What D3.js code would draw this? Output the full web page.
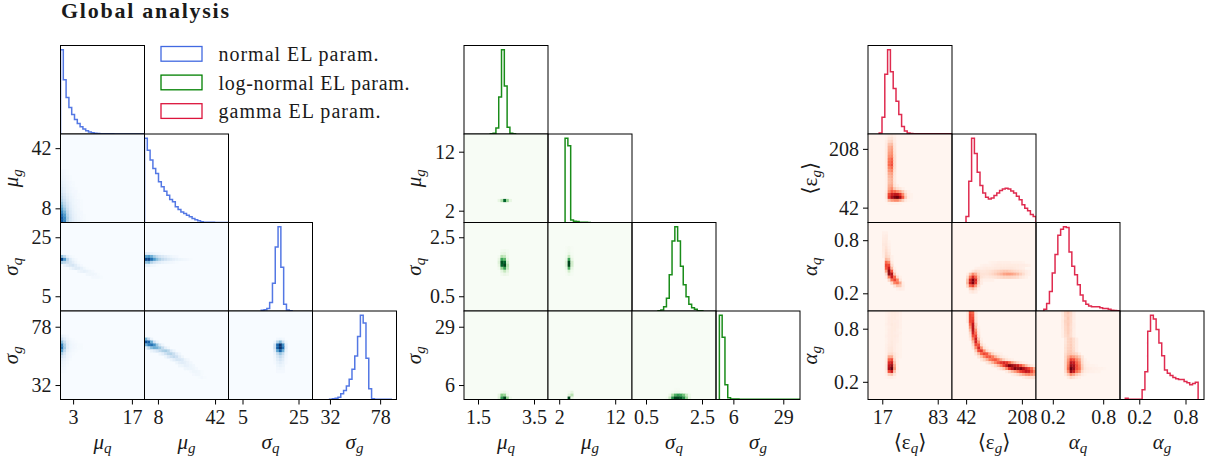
<!DOCTYPE html>
<html>
<head>
<meta charset="utf-8">
<script src="https://cdn.jsdelivr.net/npm/d3@7"></script>
<style>
  html, body { margin: 0; background: #fff; }
  svg text { font-family: "Liberation Serif", "DejaVu Serif", serif; fill: #1a1a1a; }
</style>
</head>
<body>
<svg id="svg1"></svg>
<script>
// legend + labels
var legendLabels = ["normal EL param.", "log-normal EL param.", "gamma EL param."];
var legendLengths = [160, 191, 162];
var labelsA = [["μ", "q"], ["μ", "g"], ["σ", "q"], ["σ", "g"]];
var labelsB = [["⟨ε", "q", "⟩"], ["⟨ε", "g", "⟩"], ["α", "q"], ["α", "g"]];

// axis ticks for each corner plot
var ticksBlue = [[3, 17], [8, 42], [5, 25], [32, 78]];
var ticksGreen = [[1.5, 3.5], [2, 12], [0.5, 2.5], [6, 29]];
var ticksRed = [[17, 83], [42, 208], [0.2, 0.8], [0.2, 0.8]];

// histograms, 30 bins, height relative to peak
var histBlueMuq = [1,.645,.433,.315,.232,.173,.126,.087,.059,.04,.024,.016,.008,.005,.004,.003,.002,.002,.002,.001,.001,.001,.001,.001,.001,.001,.001,.001,.001,.001];
var histBlueMug = [1,.858,.743,.64,.58,.482,.423,.372,.324,.273,.245,.186,.154,.126,.107,.087,.067,.047,.032,.02,.008,.004,.002,.002,.002,.001,.001,.001,.001,.001];
var histBlueSigq = [0,0,0,0,0,0,0,0,0,0,0,.008,.016,.03,.1,.33,.76,1,.52,.08,.012,.004,0,0,0,0,0,0,0,0];
var histBlueSigg = [0,0,0,0,0,0,.004,.008,.016,.028,.068,.108,.16,.24,.36,.516,.748,1,.908,.488,.128,.008,.002,.002,.002,.002,.002,.002,0,0];

var histGreenMuq = [0,0,0,0,0,0,0,0,0,.002,.01,.07,.44,1,.57,.08,.01,.002,0,0,0,0,0,0,0,0,0,0,0,0];
var histGreenMug = [0,0,0,0,0,0,1,.91,.03,.015,.012,.004,.003,.002,.001,0,0,0,0,0,0,0,0,0,0,0,0,0,0,0];
var histGreenSigq = [0,0,0,0,0,0,0,0,0,.004,.012,.05,.15,.43,.83,1,.83,.53,.31,.17,.08,.04,.02,.004,.004,0,0,0,0,0];
var histGreenSigg = [0,1,.74,.175,.02,.006,.005,.005,.004,.004,.004,.004,.004,.004,.004,.004,.004,.003,.003,.003,.003,.003,.003,.003,.003,.003,.003,.003,.003,.003];

var histRedEq = [0,0,0,0,.012,.2,.71,1,.74,.54,.39,.23,.09,.035,.012,.006,.004,.003,.003,.002,.002,.002,.002,.002,.002,.002,.002,.002,.002,.002];
var histRedEg = [0,0,0,0,0,.07,.49,1,.82,.595,.44,.35,.3,.28,.29,.32,.35,.38,.397,.405,.397,.373,.35,.31,.27,.21,.17,.14,.095,.07];
var histRedAq = [0,0,0,.02,.09,.23,.45,.67,.9,.97,1,.99,.7,.53,.43,.31,.19,.12,.08,.06,.05,.05,.05,.04,.03,.03,.02,.01,.006,.004];
var histRedAg = [0,0,.016,.004,.004,.004,.004,.004,.115,.33,.81,1,.956,.83,.67,.52,.35,.31,.286,.26,.246,.238,.238,.214,.2,.175,.19,.206,0,0];

// 2D histograms, sparse rows: [row, first column, densities in percent]
var cellsBlue21 = [[12,0,[3,2,1]],[13,0,[4,2,1]],[14,0,[5,3,2,1]],[15,0,[6,4,2,1]],[16,0,[8,5,3,2,1]],[17,0,[10,6,4,2,1]],[18,0,[13,8,5,3,2,1]],[19,0,[16,10,6,4,2,2]],[20,0,[20,13,8,5,3,2,1]],[21,0,[25,16,10,6,4,2,1]],[22,0,[30,20,12,7,5,3,2,1]],[23,0,[38,25,15,9,5,3,2,1]],[24,0,[46,30,18,10,6,4,2,1]],[25,0,[55,38,22,12,7,4,3,1]],[26,0,[65,48,26,14,8,5,3,2]],[27,0,[75,58,30,16,9,6,3,2,1]],[28,0,[82,65,34,18,10,6,4,2,1]],[29,0,[85,68,32,18,11,7,5,3,2,1]]];
var cellsBlue31 = [[11,0,[40,25,8,3,1]],[12,0,[90,60,28,12,5,2]],[13,0,[32,28,22,15,9,4,1]],[14,1,[6,10,15,17,11,5,2]],[15,3,[4,8,12,12,8,4,1]],[16,6,[4,6,8,6,4,2]],[17,9,[3,4,4,3,1]],[18,11,[2,2,2,1]]];
var cellsBlue32 = [[10,0,[10,10,7,5,3,2,1]],[11,0,[55,60,50,35,25,18,14,10,7,5,3,2]],[12,0,[90,92,75,58,42,32,25,20,15,12,9,7,5,4,3,2,1]],[13,0,[40,45,30,20,14,10,7,5,4,3,2,1]],[14,0,[7,7,4,3,1]]];
var cellsBlue41 = [[8,0,[8,4,2]],[9,0,[20,10,5,2,1]],[10,0,[42,22,8,4,2,1]],[11,0,[65,32,10,5,3,2,1,1]],[12,0,[72,35,10,5,3,2,1,1]],[13,0,[55,25,8,4,2,1]],[14,0,[32,15,5,2,1]],[15,0,[18,10,4,2]],[16,0,[10,6,3,1]],[17,0,[7,4,2]],[18,0,[5,3,1]],[19,0,[3,2]],[20,0,[2,1]]];
var cellsBlue42 = [[9,0,[45,25,6]],[10,0,[88,80,50,20,5]],[11,0,[50,70,75,62,38,16,5]],[12,0,[10,25,42,50,48,38,25,10,4]],[13,2,[6,10,16,25,32,35,28,13,5]],[14,5,[5,10,20,28,30,22,10,4]],[15,7,[5,13,20,25,20,10,4]],[16,9,[5,10,16,16,13,6,3]],[17,11,[5,9,11,9,6,3]],[18,12,[4,5,8,7,5,3]],[19,14,[4,5,5,4,2]],[20,16,[2,4,4,3,1]],[21,17,[2,3,3,1]],[22,19,[1,2,1]]];
var cellsBlue43 = [[9,17,[3,5,3]],[10,16,[5,28,45,22,4]],[11,16,[20,78,99,65,10]],[12,16,[22,82,100,75,12]],[13,16,[13,55,80,50,8]],[14,16,[6,24,38,24,5]],[15,16,[4,15,24,15,3]],[16,16,[3,11,17,11,2]],[17,16,[2,7,11,7,2]],[18,17,[5,7,5]],[19,17,[3,4,3]],[20,17,[2,2,2]]];

var cellsGreen21 = [[22,12,[10,32,90,40,10]]];
var cellsGreen31 = [[9,13,[3,4,2]],[10,13,[8,10,3]],[11,12,[3,30,25,5]],[12,12,[10,65,55,10]],[13,12,[15,95,90,20]],[14,12,[10,90,100,30]],[15,12,[4,40,65,25]],[16,13,[12,25,12]],[17,13,[4,8,5]]];
var cellsGreen32 = [[8,6,[1,3,1]],[9,6,[1,4,1]],[10,6,[2,8,2]],[11,6,[4,25,4]],[12,6,[8,65,10]],[13,6,[15,100,20]],[14,6,[15,100,20]],[15,6,[8,60,10]],[16,6,[3,20,4]],[17,6,[1,6,2]]];
var cellsGreen41 = [[27,13,[5,8,3]],[28,12,[10,45,40,8]],[29,12,[15,70,100,40,6]]];
var cellsGreen42 = [[27,7,[3,12]],[28,6,[0,15,30]],[29,6,[0,100,10]]];
var cellsGreen43 = [[26,15,[1,1]],[27,14,[3,6,6,4]],[28,13,[8,35,60,70,65,50,25,6]],[29,12,[4,25,75,100,100,95,75,40,10]]];

var cellsRed21 = [[0,6,[1,4,6,3]],[1,6,[2,8,10,4]],[2,6,[4,14,16,5]],[3,6,[5,22,24,7]],[4,6,[5,28,32,8]],[5,6,[6,30,35,9]],[6,6,[6,34,38,10]],[7,6,[6,38,42,12]],[8,6,[6,45,52,12]],[9,6,[6,48,55,13]],[10,6,[5,50,58,13]],[11,6,[5,42,50,12]],[12,6,[4,36,42,10]],[13,6,[4,30,34,8]],[14,6,[3,26,30,7]],[15,6,[3,24,28,7]],[16,6,[3,24,28,8]],[17,6,[3,28,32,10,4]],[18,6,[3,32,40,20,12,8,3]],[19,6,[5,40,55,50,40,32,20,8,3]],[20,6,[8,60,75,80,78,65,40,15,4,2]],[21,6,[8,65,85,95,100,85,55,20,5,2]],[22,6,[3,25,35,40,40,30,18,6,2,1]],[23,7,[2,3,3,3,2]]];
var cellsRed31 = [[3,5,[3,3]],[4,5,[4,5]],[5,5,[5,6]],[6,5,[6,7,2]],[7,5,[7,8,3]],[8,5,[6,10,4]],[9,5,[6,12,6]],[10,5,[5,14,8]],[11,5,[4,16,12,3]],[12,6,[25,20,3]],[13,6,[50,40,6]],[14,6,[60,60,12]],[15,6,[55,75,25,3]],[16,6,[35,92,55,8]],[17,6,[15,90,82,20,3]],[18,6,[5,45,75,50,14,3]],[19,7,[15,48,60,42,8]],[20,8,[15,42,48,30,4]],[21,9,[10,22,20,6]],[22,10,[3,5,4]]];
var cellsRed32 = [[13,13,[2,3,3,4,4,4,4,4,3,3,3,3,2]],[14,10,[2,3,3,3,4,5,6,6,6,6,6,6,6,6,5,5,4,3]],[15,8,[3,4,4,5,6,6,6,7,7,8,8,8,8,8,7,6,5,4]],[16,6,[2,8,12,10,8,8,9,10,12,14,16,18,20,20,18,16,14,12,10,8,5,3]],[17,5,[4,22,40,30,16,10,10,10,12,15,18,22,26,32,34,34,32,28,24,18,12,6,3]],[18,5,[12,45,70,50,22,10,8,7,8,9,10,12,14,16,16,16,15,14,12,8,6,3]],[19,5,[22,70,95,70,22,6,3,3,3,3]],[20,5,[25,75,95,65,18,5]],[21,5,[14,50,60,35,10]],[22,6,[15,22,12,3]],[23,6,[5,8,5]]];
var cellsRed41 = [[0,6,[2,4,6,6,5,3]],[1,6,[2,4,6,6,5,3]],[2,6,[2,5,6,6,4,3]],[3,6,[2,5,6,5,5,3]],[4,6,[3,5,7,6,5,3]],[5,6,[2,4,6,6,5,3]],[6,6,[2,5,6,6,4,2]],[7,6,[2,5,6,5,4,3]],[8,6,[3,5,6,6,5,2]],[9,6,[2,5,6,5,4,2]],[10,6,[2,5,7,5,4,2]],[11,6,[3,6,7,5,3,2]],[12,6,[3,7,8,5,3,2]],[13,6,[3,8,9,5,3,2]],[14,6,[3,12,14,8,4,2]],[15,6,[4,30,30,10,4,2]],[16,6,[5,52,58,15,3]],[17,6,[6,68,75,22,3]],[18,6,[8,78,90,30,3]],[19,6,[8,85,100,35,3]],[20,6,[6,58,75,22,2]],[21,6,[3,18,22,8]],[22,6,[1,3,4,2]]];
var cellsRed42 = [[0,5,[6,55,50,8]],[1,5,[6,60,55,8]],[2,5,[6,60,60,10]],[3,5,[6,60,65,12]],[4,6,[50,78,20]],[5,6,[38,80,25,3]],[6,6,[25,80,38,5]],[7,6,[15,72,48,8]],[8,6,[10,58,62,12]],[9,6,[5,42,75,22,3]],[10,7,[25,72,38,6]],[11,7,[15,58,58,14,4]],[12,7,[8,40,70,38,10,4]],[13,8,[20,58,65,38,14,6,3]],[14,8,[8,25,50,60,55,32,16,8,4,3]],[15,9,[10,22,40,55,55,45,28,16,8,4,2]],[16,10,[8,16,28,45,52,55,45,30,18,10,6,3]],[17,12,[8,16,28,42,55,65,70,65,52,35,24,14,8,4,2]],[18,14,[6,14,26,42,62,80,95,90,82,75,58,42,26,14,8,3]],[19,16,[5,12,22,42,65,80,95,90,95,85,72,62,50,30,15,6]],[20,19,[6,14,25,35,48,62,68,78,75,58,42]],[21,21,[4,8,14,22,30,38,42,38,32]],[22,25,[4,8,10,10,10]]];
var cellsRed43 = [[0,9,[6,16,20,14,5]],[1,9,[6,16,18,14,5]],[2,9,[5,14,20,13,5]],[3,9,[6,16,18,14,4]],[4,9,[5,15,19,13,5]],[5,9,[5,14,18,12,5]],[6,9,[4,14,18,13,4]],[7,9,[4,13,18,12,4]],[8,9,[4,12,16,12,4]],[9,10,[8,16,18,12,5]],[10,10,[8,16,18,12,5]],[11,10,[9,16,19,12,5]],[12,10,[10,17,19,13,5]],[13,10,[10,18,20,14,5]],[14,10,[12,20,22,18,14,6]],[15,10,[14,28,40,35,28,20,8]],[16,10,[14,35,62,58,42,32,12,3]],[17,10,[15,40,80,75,52,40,14,4,2]],[18,10,[15,45,90,85,58,45,18,6,3,2,2,1]],[19,10,[15,50,100,90,58,48,20,8,5,4,3,3,2,2,1]],[20,10,[12,40,90,75,48,38,14,6,4,3,3,2,2]],[21,10,[6,20,40,32,20,14,5,2]],[22,11,[6,14,10,6,3]]];

var width = 1210, height = 464;
var panelW = 84, panelH = 88.5, topY = 45.5, nBins = 30;
var tickFont = 20, labelFont = 21;

var corners = [
    {
        left: 60.5, labelGap: 43, color: "#4169e1", cmap: d3.interpolateBlues, labels: labelsA, ticks: ticksBlue,
        xDomains: [[0, 20], [0, 50], [0, 30], [16, 93]],
        yDomains: [null, [0, 50], [0, 30], [20.6, 90.4]],
        hists: [histBlueMuq, histBlueMug, histBlueSigq, histBlueSigg],
        shifts: [0, 0, 0.7, 0.1],
        cells: [[], [cellsBlue21], [cellsBlue31, cellsBlue32], [cellsBlue41, cellsBlue42, cellsBlue43]]
    },
    {
        left: 464, labelGap: 43, color: "#008000", cmap: d3.interpolateGreens, labels: labelsA, ticks: ticksGreen,
        xDomains: [[1, 4], [0, 15], [0, 3], [-2, 36.7]],
        yDomains: [null, [0, 15], [0, 3], [0.3, 35.2]],
        hists: [histGreenMuq, histGreenMug, histGreenSigq, histGreenSigg],
        shifts: [0.4, 0.1, 0.3, 0.2],
        cells: [[], [cellsGreen21], [cellsGreen31, cellsGreen32], [cellsGreen41, cellsGreen42, cellsGreen43]]
    },
    {
        left: 868, labelGap: 51, color: "#dc143c", cmap: d3.interpolateReds, labels: labelsB, ticks: ticksRed,
        xDomains: [[0, 100], [0, 250], [0, 1], [-0.05, 1.04]],
        yDomains: [null, [0, 250], [0, 1], [0, 1]],
        hists: [histRedEq, histRedEg, histRedAq, histRedAg],
        shifts: [0, 0, -0.2, -0.1],
        cells: [[], [cellsRed21], [cellsRed31, cellsRed32], [cellsRed41, cellsRed42, cellsRed43]]
    }
];

var svg = d3.select("#svg1").attr("width", width).attr("height", height).style("display", "block");

var defs = svg.append("defs");
defs.append("filter").attr("id", "soft")
    .attr("x", "-10%").attr("y", "-10%").attr("width", "120%").attr("height", "120%")
    .append("feGaussianBlur").attr("stdDeviation", 0.55);

function mathLabel(sel, parts) {
    sel.append("tspan").attr("font-style", parts[0].length > 1 ? "normal" : "italic").text(parts[0]);
    sel.append("tspan").attr("font-style", "italic").attr("font-size", 15).attr("dy", 4).text(parts[1]);
    if (parts[2]) {
        sel.append("tspan").attr("dy", -4).text(parts[2]);
    }
}

var clipId = 0;

corners.forEach(function (corner) {
    var colScale = d3.scaleLinear().domain([0, nBins]).range([0, panelW]);
    var rowScale = d3.scaleLinear().domain([0, nBins]).range([0, panelH]);

    for (var r = 0; r < 4; r++) {
        for (var c = 0; c <= r; c++) {
            var px = corner.left + c * panelW;
            var py = topY + r * panelH;
            var g = svg.append("g").attr("transform", "translate(" + px + "," + py + ")");

            clipId++;
            defs.append("clipPath").attr("id", "clip" + clipId)
                .append("rect").attr("width", panelW).attr("height", panelH);
            var inner = g.append("g").attr("clip-path", "url(#clip" + clipId + ")");

            var x = d3.scaleLinear().domain(corner.xDomains[c]).range([0, panelW]);

            if (r === c) {
                // diagonal, step histogram
                var y = d3.scaleLinear().domain([0, 1.05]).range([panelH, 0]);
                var vals = corner.hists[c];
                var binW = (corner.xDomains[c][1] - corner.xDomains[c][0]) / nBins;
                var start = corner.xDomains[c][0] + corner.shifts[c] * binW;
                var first = vals.findIndex(function (v) { return v > 0; });
                var last = nBins - 1;
                while (vals[last] === 0) { last--; }
                var pts = [[start + first * binW, 0]];
                for (var k = first; k <= last; k++) {
                    pts.push([start + k * binW, vals[k]]);
                }
                pts.push([start + (last + 1) * binW, vals[last]]);
                pts.push([start + (last + 1) * binW, 0]);
                var line = d3.line()
                    .x(function (d) { return x(d[0]); })
                    .y(function (d) { return y(d[1]); })
                    .curve(d3.curveStepAfter);
                inner.append("path").attr("d", line(pts))
                    .attr("fill", "none").attr("stroke", corner.color)
                    .attr("stroke-width", 1.5).attr("stroke-opacity", 0.9);
            } else {
                // off diagonal, 2D histogram
                inner.append("rect").attr("width", panelW).attr("height", panelH).attr("fill", corner.cmap(0));
                var flat = [];
                corner.cells[r][c].forEach(function (row) {
                    row[2].forEach(function (v, i) {
                        if (v > 0) {
                            var col = row[1] + i;
                            flat.push({ row: row[0], col: col, v: v });
                            // repeat edge cells outside the frame so the blur keeps them dark
                            if (col === 0) { flat.push({ row: row[0], col: -1, v: v }); }
                            if (row[0] === nBins - 1) { flat.push({ row: nBins, col: col, v: v }); }
                            if (col === 0 && row[0] === nBins - 1) { flat.push({ row: nBins, col: -1, v: v }); }
                            if (row[0] === 0) { flat.push({ row: -1, col: col, v: v }); }
                        }
                    });
                });
                inner.append("g").attr("filter", "url(#soft)")
                    .selectAll("rect").data(flat).enter().append("rect")
                    .attr("x", function (d) { return colScale(d.col); })
                    .attr("y", function (d) { return rowScale(d.row); })
                    .attr("width", colScale(1) + 0.3)
                    .attr("height", rowScale(1) + 0.3)
                    .attr("fill", function (d) { return corner.cmap(d.v / 100); });
            }

            g.append("rect").attr("width", panelW).attr("height", panelH)
                .attr("fill", "none").attr("stroke", "#000").attr("stroke-width", 1);

            // left column ticks
            if (c === 0 && r > 0) {
                var yAxis = d3.scaleLinear().domain(corner.yDomains[r]).range([panelH, 0]);
                var ay = g.append("g").call(d3.axisLeft(yAxis).tickValues(corner.ticks[r]).tickSize(5).tickPadding(4).tickFormat(function (d) { return d; }));
                ay.select(".domain").remove();
                ay.selectAll("text").attr("font-size", tickFont).attr("font-family", null).style("fill", "#1a1a1a");
                g.append("text")
                    .attr("transform", "translate(" + (-corner.labelGap) + "," + (panelH / 2) + ") rotate(-90)")
                    .attr("text-anchor", "middle").attr("font-size", labelFont)
                    .call(mathLabel, corner.labels[r]);
            }
            // bottom row ticks
            if (r === 3) {
                var ax = g.append("g").attr("transform", "translate(0," + panelH + ")")
                    .call(d3.axisBottom(x).tickValues(corner.ticks[c]).tickSize(5).tickPadding(5).tickFormat(function (d) { return d; }));
                ax.select(".domain").remove();
                ax.selectAll("text").attr("font-size", tickFont).attr("font-family", null).style("fill", "#1a1a1a");
                g.append("text")
                    .attr("transform", "translate(" + (panelW / 2) + "," + (panelH + 49) + ")")
                    .attr("text-anchor", "middle").attr("font-size", labelFont)
                    .call(mathLabel, corner.labels[c]);
            }
        }
    }
});

// title
svg.append("text").attr("x", 61).attr("y", 18)
    .attr("font-size", 22).attr("font-weight", "bold")
    .attr("textLength", 168).attr("lengthAdjust", "spacing")
    .text("Global analysis");

// legend
var legendY = d3.scalePoint().domain(d3.range(3)).range([46.5, 103.7]);
var legend = svg.append("g");
legendLabels.forEach(function (name, i) {
    legend.append("rect").attr("x", 161).attr("y", legendY(i)).attr("width", 41).attr("height", 14.7)
        .attr("fill", "none").attr("stroke", corners[i].color).attr("stroke-width", 1.3);
    legend.append("text").attr("x", 218.5).attr("y", legendY(i) + 14.5)
        .attr("font-size", 20).attr("textLength", legendLengths[i]).attr("lengthAdjust", "spacing")
        .text(name);
});
</script>
</body>
</html>
